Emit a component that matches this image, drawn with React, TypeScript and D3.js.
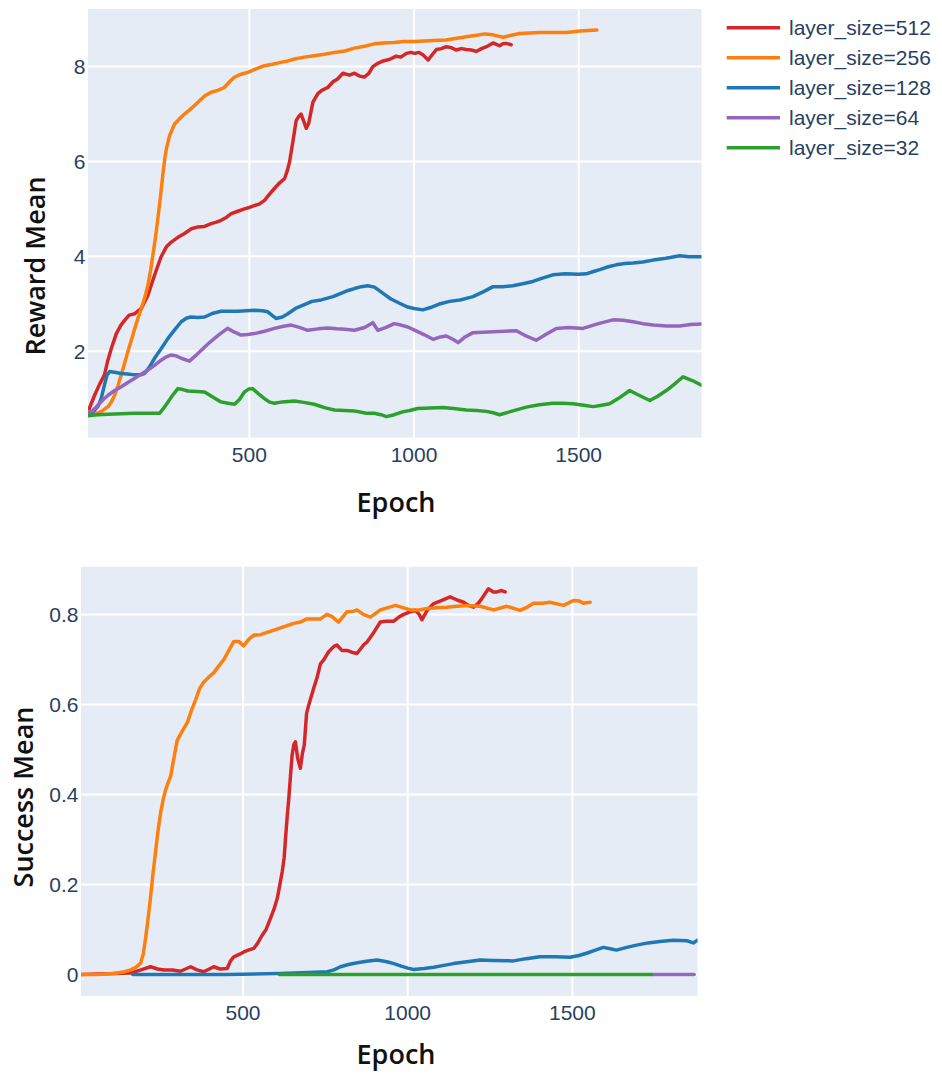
import React from "react";
import * as d3 from "d3";

type Pt = [number, number];

const seriesNames = ["layer_size=512", "layer_size=256", "layer_size=128", "layer_size=64", "layer_size=32"];
const seriesColors = ["#d62728", "#ff7f0e", "#1f77b4", "#9467bd", "#2ca02c"];

const xTicks = [500, 1000, 1500];
const rewardTicks = [2, 4, 6, 8];
const successTicks = [0, 0.2, 0.4, 0.6, 0.8];

// Reward Mean, [epoch, value]
const reward512: Pt[] = [[10,0.72],[30,1.07],[45,1.3],[60,1.5],[70,1.8],[81,2.06],[96,2.37],[110,2.55],[121,2.65],[135,2.76],[152,2.79],[172,2.9],[192,3.18],[212,3.6],[232,3.99],[248,4.2],[263,4.3],[283,4.4],[303,4.48],[324,4.58],[344,4.62],[364,4.63],[384,4.69],[400,4.72],[414,4.76],[430,4.82],[445,4.9],[465,4.95],[485,5.0],[500,5.03],[515,5.07],[530,5.1],[546,5.18],[560,5.3],[576,5.43],[592,5.55],[607,5.64],[615,5.8],[622,5.99],[632,6.41],[642,6.86],[650,6.95],[657,7.0],[665,6.85],[673,6.7],[680,6.8],[693,7.25],[708,7.43],[720,7.5],[738,7.56],[754,7.68],[768,7.74],[784,7.86],[804,7.82],[819,7.86],[835,7.8],[849,7.78],[862,7.85],[875,8.0],[890,8.07],[906,8.12],[925,8.15],[946,8.22],[960,8.2],[977,8.28],[990,8.3],[1002,8.28],[1015,8.3],[1027,8.25],[1043,8.14],[1055,8.25],[1068,8.36],[1083,8.38],[1098,8.42],[1113,8.4],[1128,8.35],[1144,8.38],[1159,8.36],[1174,8.35],[1189,8.32],[1205,8.38],[1220,8.42],[1240,8.5],[1250,8.47],[1260,8.44],[1270,8.48],[1280,8.49],[1295,8.46]];
const reward256: Pt[] = [[10,0.72],[25,0.7],[40,0.69],[55,0.75],[71,0.83],[81,0.93],[91,1.07],[101,1.27],[111,1.5],[121,1.74],[131,1.99],[142,2.24],[152,2.48],[162,2.7],[172,2.9],[182,3.12],[192,3.39],[200,3.7],[207,4.02],[215,4.4],[222,4.79],[230,5.25],[237,5.71],[243,6.05],[248,6.27],[258,6.55],[273,6.79],[288,6.9],[303,7.0],[324,7.12],[344,7.25],[364,7.38],[384,7.46],[404,7.5],[424,7.56],[440,7.68],[455,7.78],[475,7.84],[495,7.88],[520,7.95],[546,8.02],[570,8.05],[596,8.09],[617,8.12],[637,8.16],[667,8.2],[697,8.23],[728,8.26],[758,8.3],[790,8.33],[819,8.39],[850,8.43],[879,8.48],[906,8.5],[940,8.51],[970,8.53],[1000,8.53],[1030,8.54],[1060,8.55],[1098,8.56],[1130,8.6],[1159,8.63],[1190,8.66],[1215,8.69],[1240,8.67],[1270,8.62],[1295,8.66],[1321,8.7],[1350,8.71],[1382,8.72],[1420,8.72],[1463,8.72],[1503,8.75],[1530,8.76],[1555,8.77]];
const reward128: Pt[] = [[10,0.69],[25,0.72],[40,0.83],[50,1.0],[60,1.29],[68,1.5],[76,1.57],[95,1.55],[111,1.53],[130,1.52],[152,1.5],[170,1.5],[182,1.53],[197,1.67],[212,1.85],[232,2.05],[253,2.27],[273,2.45],[293,2.62],[310,2.7],[323,2.72],[344,2.71],[364,2.72],[390,2.8],[414,2.84],[440,2.84],[465,2.84],[490,2.85],[515,2.86],[540,2.85],[556,2.83],[570,2.75],[581,2.69],[600,2.72],[617,2.79],[640,2.9],[667,2.98],[690,3.05],[718,3.08],[754,3.15],[778,3.22],[800,3.28],[819,3.32],[840,3.36],[859,3.38],[880,3.35],[906,3.22],[930,3.1],[956,3.01],[981,2.93],[1000,2.9],[1027,2.87],[1050,2.92],[1080,3.0],[1108,3.05],[1140,3.08],[1179,3.15],[1210,3.25],[1240,3.36],[1270,3.36],[1300,3.38],[1330,3.42],[1361,3.47],[1390,3.54],[1422,3.61],[1460,3.63],[1500,3.62],[1523,3.63],[1545,3.68],[1564,3.72],[1590,3.78],[1614,3.82],[1640,3.85],[1665,3.86],[1695,3.88],[1726,3.92],[1765,3.96],[1807,4.01],[1835,3.99],[1873,3.99]];
const reward64: Pt[] = [[10,0.69],[25,0.75],[40,0.86],[55,0.97],[71,1.07],[91,1.17],[111,1.25],[131,1.34],[152,1.43],[172,1.52],[192,1.6],[212,1.7],[232,1.81],[248,1.88],[263,1.92],[278,1.9],[293,1.85],[318,1.79],[336,1.9],[354,2.02],[374,2.15],[394,2.27],[414,2.38],[434,2.48],[455,2.4],[475,2.34],[495,2.35],[515,2.37],[546,2.42],[576,2.48],[600,2.52],[627,2.55],[652,2.5],[677,2.44],[708,2.47],[738,2.49],[765,2.47],[790,2.46],[819,2.44],[850,2.5],[875,2.6],[890,2.44],[915,2.5],[940,2.58],[960,2.55],[981,2.51],[1000,2.45],[1030,2.35],[1058,2.25],[1080,2.3],[1098,2.32],[1118,2.25],[1134,2.18],[1155,2.3],[1179,2.39],[1210,2.4],[1240,2.41],[1275,2.42],[1311,2.43],[1340,2.32],[1371,2.23],[1400,2.35],[1432,2.48],[1470,2.5],[1513,2.48],[1560,2.58],[1604,2.66],[1635,2.65],[1665,2.62],[1695,2.58],[1726,2.55],[1766,2.53],[1807,2.53],[1840,2.56],[1873,2.57]];
const reward32: Pt[] = [[10,0.64],[40,0.66],[71,0.67],[110,0.68],[152,0.69],[190,0.69],[227,0.69],[240,0.8],[253,0.93],[268,1.08],[283,1.21],[298,1.19],[313,1.16],[340,1.15],[364,1.14],[390,1.03],[414,0.93],[435,0.9],[455,0.88],[470,0.98],[485,1.14],[498,1.2],[510,1.21],[528,1.1],[546,1.0],[560,0.93],[576,0.9],[600,0.93],[637,0.95],[665,0.92],[697,0.88],[728,0.81],[758,0.76],[790,0.75],[819,0.74],[855,0.69],[879,0.69],[900,0.66],[916,0.62],[940,0.66],[965,0.72],[987,0.75],[1011,0.79],[1050,0.8],[1088,0.81],[1120,0.79],[1159,0.76],[1190,0.75],[1220,0.73],[1240,0.7],[1260,0.66],[1300,0.74],[1341,0.82],[1380,0.87],[1422,0.9],[1450,0.9],[1483,0.89],[1515,0.86],[1544,0.83],[1570,0.86],[1594,0.89],[1620,1.0],[1655,1.17],[1680,1.08],[1716,0.96],[1740,1.05],[1766,1.17],[1790,1.3],[1817,1.46],[1845,1.38],[1873,1.28]];

// Success Mean, [epoch, value]
const success512: Pt[] = [[8,0],[60,0.001],[120,0.002],[159,0.003],[190,0.01],[219,0.017],[240,0.012],[260,0.01],[285,0.01],[310,0.007],[341,0.017],[360,0.01],[381,0.006],[411,0.017],[430,0.012],[452,0.013],[462,0.03],[472,0.039],[490,0.045],[502,0.05],[520,0.055],[533,0.058],[545,0.07],[558,0.087],[570,0.1],[583,0.124],[594,0.145],[604,0.169],[612,0.2],[619,0.228],[625,0.26],[629,0.302],[634,0.35],[639,0.391],[644,0.44],[649,0.487],[654,0.51],[659,0.517],[666,0.48],[674,0.458],[680,0.49],[686,0.51],[693,0.58],[700,0.6],[715,0.637],[725,0.66],[735,0.69],[746,0.7],[760,0.717],[776,0.729],[785,0.732],[800,0.72],[816,0.72],[830,0.716],[846,0.713],[866,0.732],[877,0.739],[897,0.76],[917,0.783],[935,0.785],[958,0.785],[975,0.795],[988,0.8],[1005,0.805],[1023,0.809],[1035,0.8],[1043,0.788],[1060,0.81],[1079,0.824],[1100,0.83],[1129,0.839],[1150,0.832],[1170,0.827],[1185,0.82],[1200,0.816],[1215,0.825],[1225,0.835],[1245,0.857],[1260,0.85],[1271,0.85],[1285,0.853],[1296,0.85]];
const success256: Pt[] = [[8,0],[60,0],[108,0.002],[140,0.006],[159,0.01],[175,0.016],[189,0.025],[197,0.045],[204,0.08],[211,0.12],[219,0.17],[226,0.22],[234,0.27],[242,0.32],[250,0.36],[258,0.39],[265,0.41],[272,0.425],[280,0.44],[290,0.48],[300,0.52],[315,0.54],[331,0.56],[345,0.59],[356,0.61],[368,0.635],[381,0.65],[395,0.66],[411,0.67],[426,0.685],[442,0.7],[457,0.72],[472,0.74],[487,0.74],[502,0.73],[518,0.745],[533,0.754],[553,0.755],[573,0.76],[594,0.765],[614,0.77],[634,0.775],[654,0.78],[675,0.783],[694,0.79],[715,0.79],[735,0.79],[755,0.8],[770,0.795],[790,0.783],[816,0.806],[836,0.807],[846,0.81],[865,0.8],[887,0.794],[917,0.81],[940,0.815],[963,0.82],[985,0.815],[1008,0.81],[1035,0.81],[1059,0.813],[1090,0.815],[1119,0.816],[1150,0.818],[1180,0.82],[1220,0.818],[1261,0.81],[1301,0.818],[1341,0.809],[1360,0.815],[1382,0.825],[1410,0.825],[1432,0.827],[1473,0.82],[1503,0.831],[1520,0.83],[1533,0.825],[1554,0.827]];
const success128: Pt[] = [[165,0],[300,0],[450,0],[613,0.002],[700,0.004],[756,0.006],[776,0.01],[796,0.017],[820,0.022],[847,0.026],[875,0.029],[907,0.032],[937,0.028],[958,0.024],[978,0.019],[1000,0.014],[1018,0.011],[1050,0.013],[1079,0.016],[1110,0.02],[1139,0.024],[1180,0.028],[1220,0.032],[1260,0.031],[1321,0.03],[1360,0.035],[1402,0.039],[1450,0.039],[1493,0.038],[1520,0.042],[1543,0.047],[1570,0.054],[1594,0.06],[1615,0.057],[1634,0.054],[1665,0.06],[1695,0.065],[1730,0.07],[1766,0.073],[1806,0.076],[1847,0.075],[1867,0.07],[1880,0.076]];
const success64: Pt[] = [[1740,0],[1870,0]];
const success32: Pt[] = [[610,0],[1740,0]];

const rewardSeries = [reward512, reward256, reward128, reward64, reward32];
const successSeries = [success512, success256, success128, success64, success32];

const tickFont = "'Liberation Sans', Arial, sans-serif";
const titleFont = "'Open Sans', 'Noto Sans', sans-serif";
const tickColor = "#2a3f5f";

type PanelProps = {
  series: Pt[][];
  xDomain: [number, number];
  yDomain: [number, number];
  left: number; right: number; top: number; bottom: number;
  yTicks: number[];
  yTitle: string;
  yTitleX: number; yTitleY: number;
  xLabelY: number; xTitleY: number;
  id: string;
};

const Panel = (p: PanelProps) => {
  const x = d3.scaleLinear().domain(p.xDomain).range([p.left, p.right]);
  const y = d3.scaleLinear().domain(p.yDomain).range([p.bottom, p.top]);
  const line = d3.line<Pt>().x(d => x(d[0])).y(d => y(d[1]));
  const fmt = (v: number) => (v === 0 ? "0" : String(v));
  return (
    <g>
      <defs>
        <clipPath id={p.id}>
          <rect x={p.left} y={p.top} width={p.right - p.left} height={p.bottom - p.top} />
        </clipPath>
      </defs>
      <rect x={p.left} y={p.top} width={p.right - p.left} height={p.bottom - p.top} fill="#e5ecf6" />
      {xTicks.map(t => (
        <line key={"gx" + t} x1={x(t)} x2={x(t)} y1={p.top} y2={p.bottom} stroke="#fff" strokeWidth={2} />
      ))}
      {p.yTicks.map(t => (
        <line key={"gy" + t} x1={p.left} x2={p.right} y1={y(t)} y2={y(t)} stroke="#fff" strokeWidth={t === 0 ? 3.5 : 2} />
      ))}
      <g clipPath={`url(#${p.id})`}>
        {p.series.map((s, i) => (
          <path key={i} d={line(s) || ""} fill="none" stroke={seriesColors[i]} strokeWidth={3.5}
            strokeLinejoin="round" strokeLinecap="round" />
        ))}
      </g>
      {xTicks.map(t => (
        <text key={"lx" + t} x={x(t)} y={p.xLabelY} textAnchor="middle" fontFamily={tickFont} fontSize={21} fill={tickColor}>{t}</text>
      ))}
      {p.yTicks.map(t => (
        <text key={"ly" + t} x={p.left - 2.5} y={y(t)} dy="0.36em" textAnchor="end" fontFamily={tickFont} fontSize={21} fill={tickColor}>{fmt(t)}</text>
      ))}
      <text x={396} y={p.xTitleY} textAnchor="middle" fontFamily={titleFont} fontWeight={600} fontSize={27} fill="#111">Epoch</text>
      <text transform={`translate(${p.yTitleX},${p.yTitleY}) rotate(-90)`} textAnchor="middle" fontFamily={titleFont} fontWeight={600} fontSize={27} fill="#111">{p.yTitle}</text>
    </g>
  );
};

export default function App() {
  return (
    <svg width={942} height={1074} style={{ position: "absolute", left: 0, top: 0, background: "#fff" }}>
      <Panel series={rewardSeries} xDomain={[10, 1873]} yDomain={[0.175, 9.215]}
        left={88} right={701.5} top={9} bottom={437.7} yTicks={rewardTicks} yTitle="Reward Mean"
        yTitleX={45} yTitleY={266} xLabelY={461.5} xTitleY={511.5} id="clipTop" />
      <Panel series={successSeries} xDomain={[8, 1880]} yDomain={[-0.048, 0.906]}
        left={81} right={697.5} top={566.7} bottom={996} yTicks={successTicks} yTitle="Success Mean"
        yTitleX={33} yTitleY={797} xLabelY={1020} xTitleY={1064} id="clipBottom" />
      <g>
        {seriesNames.map((n, i) => (
          <g key={n}>
            <line x1={726.7} x2={780} y1={27.7 + i * 30} y2={27.7 + i * 30} stroke={seriesColors[i]} strokeWidth={3.5} />
            <text x={789} y={27.7 + i * 30} dy="0.36em" fontFamily={tickFont} fontSize={21} fill={tickColor}>{n}</text>
          </g>
        ))}
      </g>
    </svg>
  );
}
